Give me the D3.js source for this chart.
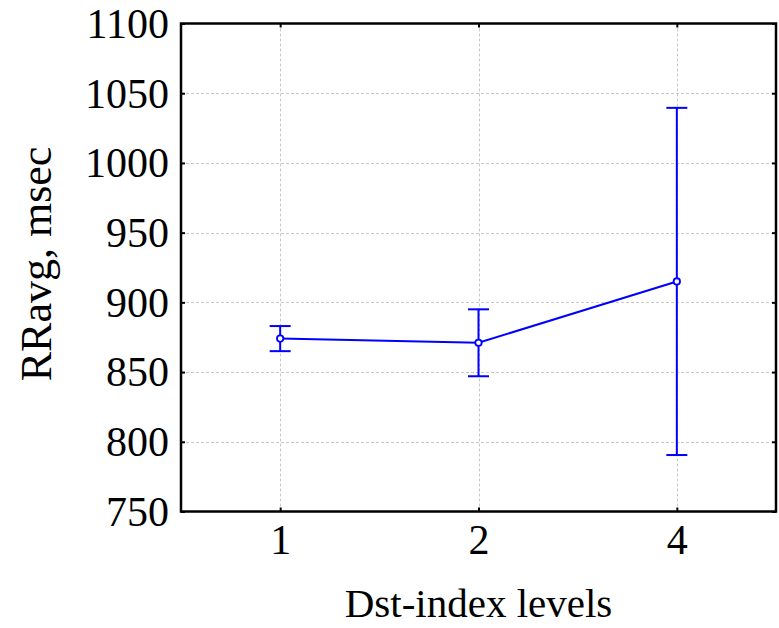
<!DOCTYPE html>
<html>
<head>
<meta charset="utf-8">
<script src="https://cdn.jsdelivr.net/npm/d3@7"></script>
<style>
  body { margin: 0; background: #fff; }
  svg { display: block; }
  text { font-family: "Liberation Serif", "Times New Roman", serif; fill: #000; }
</style>
</head>
<body>
<script>
// Data
const levels = ["1", "2", "4"];
const means = [874, 871, 915];
const upper = [883, 895, 1039.5];
const lower = [865, 847, 790.5];
const yTicks = [750, 800, 850, 900, 950, 1000, 1050, 1100];

const width = 779, height = 628;
const margin = {top: 23.5, right: 3, bottom: 116.5, left: 181};

const svg = d3.select("body").append("svg")
  .attr("width", width)
  .attr("height", height);

const x = d3.scalePoint()
  .domain(levels)
  .range([margin.left, width - margin.right])
  .padding(0.5);

const y = d3.scaleLinear()
  .domain([750, 1100])
  .range([height - margin.bottom, margin.top]);

const x0 = margin.left, x1 = width - margin.right;
const y0 = height - margin.bottom, y1 = margin.top;

// Grid
const grid = svg.append("g")
  .attr("stroke", "#c8c8c8")
  .attr("stroke-width", 1)
  .attr("stroke-dasharray", "3,2");
grid.selectAll("line.h")
  .data(yTicks.slice(1, -1))
  .join("line")
  .attr("class", "h")
  .attr("x1", x0).attr("x2", x1)
  .attr("y1", d => Math.round(y(d)) + 0.5)
  .attr("y2", d => Math.round(y(d)) + 0.5);
grid.selectAll("line.v")
  .data(levels)
  .join("line")
  .attr("class", "v")
  .attr("x1", d => Math.round(x(d)) + 0.5)
  .attr("x2", d => Math.round(x(d)) + 0.5)
  .attr("y1", y1).attr("y2", y0);

// Axes (ticks inward)
const fontSize = 42;
svg.append("g")
  .attr("transform", `translate(0,${y0})`)
  .call(d3.axisBottom(x).tickSize(-4).tickPadding(13))
  .call(g => g.select(".domain").remove())
  .call(g => g.selectAll("line").attr("stroke", "#000").attr("stroke-width", 2))
  .call(g => g.selectAll("text").attr("font-size", fontSize).attr("dy", "0.71em"));

svg.append("g")
  .attr("transform", `translate(${x0},0)`)
  .call(d3.axisLeft(y).tickValues(yTicks).tickSize(-4).tickPadding(12).tickFormat(d3.format("d")))
  .call(g => g.select(".domain").remove())
  .call(g => g.selectAll("line").attr("stroke", "#000").attr("stroke-width", 2))
  .call(g => g.selectAll("text").attr("font-size", fontSize).attr("dy", "0.33em"));

// Mirrored ticks on top and right
svg.append("g")
  .attr("transform", `translate(0,${y1})`)
  .call(d3.axisTop(x).tickSize(-4).tickFormat(""))
  .call(g => g.select(".domain").remove())
  .call(g => g.selectAll("line").attr("stroke", "#000").attr("stroke-width", 2));
svg.append("g")
  .attr("transform", `translate(${x1},0)`)
  .call(d3.axisRight(y).tickValues(yTicks).tickSize(-4).tickFormat(""))
  .call(g => g.select(".domain").remove())
  .call(g => g.selectAll("line").attr("stroke", "#000").attr("stroke-width", 2));

// Frame
svg.append("rect")
  .attr("x", x0).attr("y", y1)
  .attr("width", x1 - x0).attr("height", y0 - y1)
  .attr("fill", "none")
  .attr("stroke", "#000")
  .attr("stroke-width", 2.5);

// Data
const pts = levels.map((l, i) => ({l, m: means[i], hi: upper[i], lo: lower[i]}));
const blue = "#0000ff";
const capW = 10.5;

const bars = svg.append("g").attr("stroke", blue).attr("stroke-width", 2).attr("fill", "none");
bars.selectAll("line.whisk")
  .data(pts).join("line").attr("class", "whisk")
  .attr("x1", d => x(d.l)).attr("x2", d => x(d.l))
  .attr("y1", d => y(d.hi)).attr("y2", d => y(d.lo));
bars.selectAll("line.capHi")
  .data(pts).join("line").attr("class", "capHi")
  .attr("x1", d => x(d.l) - capW).attr("x2", d => x(d.l) + capW)
  .attr("y1", d => y(d.hi)).attr("y2", d => y(d.hi));
bars.selectAll("line.capLo")
  .data(pts).join("line").attr("class", "capLo")
  .attr("x1", d => x(d.l) - capW).attr("x2", d => x(d.l) + capW)
  .attr("y1", d => y(d.lo)).attr("y2", d => y(d.lo));

svg.append("path")
  .datum(pts)
  .attr("fill", "none")
  .attr("stroke", blue)
  .attr("stroke-width", 2)
  .attr("d", d3.line().x(d => x(d.l)).y(d => y(d.m)));

svg.append("g").selectAll("circle")
  .data(pts).join("circle")
  .attr("cx", d => x(d.l)).attr("cy", d => y(d.m))
  .attr("r", 3.2)
  .attr("fill", "#fff")
  .attr("stroke", blue)
  .attr("stroke-width", 1.8);

// Axis titles
svg.append("text")
  .attr("x", (x0 + x1) / 2)
  .attr("y", 617)
  .attr("text-anchor", "middle")
  .attr("font-size", 41)
  .text("Dst-index levels");

svg.append("text")
  .attr("transform", `translate(51,264) rotate(-90)`)
  .attr("text-anchor", "middle")
  .attr("font-size", 44)
  .text("RRavg, msec");
</script>
</body>
</html>
